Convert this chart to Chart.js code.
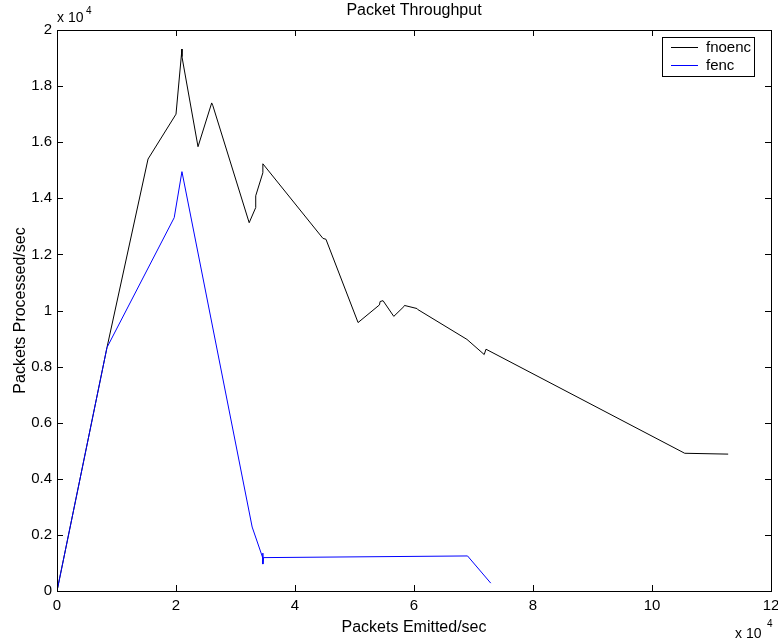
<!DOCTYPE html>
<html>
<head>
<meta charset="utf-8">
<title>Packet Throughput</title>
<script src="https://cdn.jsdelivr.net/npm/chart.js@4.4.0/dist/chart.umd.min.js"></script>
<style>
    html, body { margin: 0; padding: 0; background: #fff; }
    #wrap { width: 778px; height: 640px; }
</style>
</head>
<body>
<div id="wrap"><canvas id="chart" width="778" height="640"></canvas></div>
<script>
// Данные (значения в пакетах/сек)
const fnoencX = [0, 8400, 15300, 20000, 21000, 21000, 23700, 26000, 26200, 32300, 33400, 33400, 34600, 34600,
    44700, 45200, 50600, 54200, 54300, 54800, 56600, 58300, 58400, 60500, 60600, 68900, 71800, 72100, 105500, 112800];
const fnoencY = [0, 8680, 15400, 17000, 19320, 19050, 15840, 17400, 17300, 13130, 13670, 14090, 14910, 15230,
    12570, 12540, 9570, 10200, 10320, 10350, 9790, 10140, 10180, 10070, 10040, 8970, 8430, 8620, 4910, 4880];

const fencX = [0, 8400, 19700, 21000, 32800, 34600, 34600, 34600, 34700, 69000, 72900];
const fencY = [0, 8680, 13310, 14950, 2280, 1170, 1350, 960, 1190, 1250, 280];

const xTicks = [0, 20000, 40000, 60000, 80000, 100000, 120000];
const yTicks = [0, 2000, 4000, 6000, 8000, 10000, 12000, 14000, 16000, 18000, 20000];

const FONT = '"Liberation Sans", Arial, Helvetica, sans-serif';

function toPoints(xs, ys) {
    return xs.map((x, i) => ({ x: x, y: ys[i] }));
}

// Рамка, внутренние засечки, подписи и легенда в стиле MATLAB
const matlabFrame = {
    id: 'matlabFrame',
    afterDraw(chart) {
        const ctx = chart.ctx;
        const a = chart.chartArea;
        const xs = chart.scales.x;
        const ys = chart.scales.y;
        const tl = 6;
        ctx.save();
        ctx.strokeStyle = '#000';
        ctx.lineWidth = 1;
        ctx.beginPath();
        xTicks.forEach(v => {
            const px = Math.round(xs.getPixelForValue(v)) + 0.5;
            ctx.moveTo(px, a.bottom); ctx.lineTo(px, a.bottom - tl);
            ctx.moveTo(px, a.top); ctx.lineTo(px, a.top + tl);
        });
        yTicks.forEach(v => {
            const py = Math.round(ys.getPixelForValue(v)) + 0.5;
            ctx.moveTo(a.left, py); ctx.lineTo(a.left + tl, py);
            ctx.moveTo(a.right, py); ctx.lineTo(a.right - tl, py);
        });
        ctx.stroke();
        ctx.strokeRect(Math.round(a.left) + 0.5, Math.round(a.top) + 0.5,
            Math.round(a.right - a.left), Math.round(a.bottom - a.top));

        ctx.fillStyle = '#000';
        ctx.textBaseline = 'alphabetic';

        // заголовок
        ctx.font = '16px ' + FONT;
        ctx.textAlign = 'center';
        ctx.fillText('Packet Throughput', (a.left + a.right) / 2, 15);

        // подписи осей
        ctx.fillText('Packets Emitted/sec', (a.left + a.right) / 2, 632);
        ctx.save();
        ctx.translate(25, (a.top + a.bottom) / 2);
        ctx.rotate(-Math.PI / 2);
        ctx.fillText('Packets Processed/sec', 0, 0);
        ctx.restore();

        // множители x 10^4
        ctx.textAlign = 'left';
        ctx.font = '14px ' + FONT;
        ctx.fillText('x 10', 57, 22);
        ctx.fillText('x 10', 735, 638);
        ctx.font = '10px ' + FONT;
        ctx.fillText('4', 86, 14);
        ctx.fillText('4', 767, 627);

        // легенда
        const lx = 662, ly = 37, lw = 92, lh = 39;
        ctx.fillStyle = '#fff';
        ctx.fillRect(lx, ly, lw, lh);
        ctx.strokeStyle = '#000';
        ctx.strokeRect(lx + 0.5, ly + 0.5, lw, lh);
        const items = [
            { label: 'fnoenc', color: '#000000', y: 47 },
            { label: 'fenc', color: '#0000ff', y: 65 }
        ];
        ctx.font = '15px ' + FONT;
        items.forEach(it => {
            ctx.strokeStyle = it.color;
            ctx.beginPath();
            ctx.moveTo(671, it.y + 0.5);
            ctx.lineTo(698, it.y + 0.5);
            ctx.stroke();
            ctx.fillStyle = '#000';
            ctx.fillText(it.label, 706, it.y + 5);
        });
        ctx.restore();
    }
};

const ctx = document.getElementById('chart');
new Chart(ctx, {
    type: 'scatter',
    data: {
        datasets: [
            {
                label: 'fnoenc',
                data: toPoints(fnoencX, fnoencY),
                showLine: true,
                borderColor: '#000000',
                borderWidth: 1,
                pointRadius: 0,
                tension: 0,
                order: 1
            },
            {
                label: 'fenc',
                data: toPoints(fencX, fencY),
                showLine: true,
                borderColor: '#0000ff',
                borderWidth: 1,
                pointRadius: 0,
                tension: 0,
                order: 0
            }
        ]
    },
    options: {
        responsive: false,
        animation: false,
        layout: { padding: { left: 0, right: 7, top: 30, bottom: 0 } },
        plugins: {
            legend: { display: false },
            title: { display: false },
            tooltip: { enabled: false }
        },
        scales: {
            x: {
                type: 'linear',
                min: 0,
                max: 120000,
                grid: { display: false, drawTicks: false },
                border: { display: false },
                afterBuildTicks: s => { s.ticks = xTicks.map(v => ({ value: v })); },
                afterFit: s => { s.height = 49; s.paddingLeft = 0; s.paddingRight = 0; },
                ticks: {
                    autoSkip: false,
                    maxRotation: 0,
                    padding: 6,
                    color: '#000',
                    font: { family: FONT, size: 15 },
                    callback: v => String(v / 10000)
                }
            },
            y: {
                type: 'linear',
                min: 0,
                max: 20000,
                grid: { display: false, drawTicks: false },
                border: { display: false },
                afterBuildTicks: s => { s.ticks = yTicks.map(v => ({ value: v })); },
                afterFit: s => { s.width = 57; s.paddingTop = 0; s.paddingBottom = 0; },
                ticks: {
                    autoSkip: false,
                    padding: 5,
                    color: '#000',
                    font: { family: FONT, size: 15 },
                    callback: v => String(Math.round(v / 1000) / 10)
                }
            }
        }
    },
    plugins: [matlabFrame]
});
</script>
</body>
</html>
